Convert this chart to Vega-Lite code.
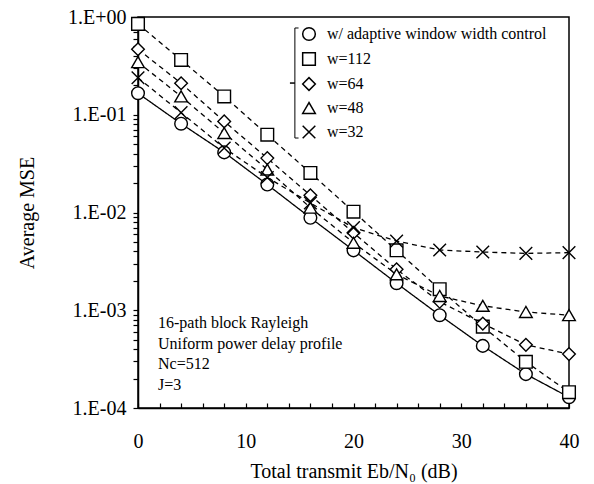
{
  "$schema": "https://vega.github.io/schema/vega-lite/v6.json",
  "width": 431,
  "height": 391,
  "autosize": {"type": "none"},
  "padding": {"left": 138, "top": 17, "right": 25, "bottom": 76},
  "background": "white",
  "config": {
    "font": "Liberation Serif",
    "view": {"stroke": "black", "strokeWidth": 1.5},
    "axis": {
      "domainColor": "black", "domainWidth": 1.5,
      "tickColor": "black", "tickWidth": 1.2,
      "labelColor": "black", "titleColor": "black",
      "labelFontSize": 20, "titleFontSize": 20, "titleFontWeight": "normal",
      "labelFont": "Liberation Serif", "titleFont": "Liberation Serif",
      "grid": false, "labelOverlap": false, "labelFlush": false
    },
    "legend": {
      "labelFont": "Liberation Serif", "labelFontSize": 16, "labelColor": "black", "labelLimit": 400
    }
  },
  "resolve": {"axis": {"x": "independent", "y": "independent"}},
  "datasets": {
    "curves": [
      {"series": "w/ adaptive window width control", "snr": 0, "mse": 0.166},
      {"series": "w/ adaptive window width control", "snr": 4, "mse": 0.081},
      {"series": "w/ adaptive window width control", "snr": 8, "mse": 0.0412},
      {"series": "w/ adaptive window width control", "snr": 12, "mse": 0.0193},
      {"series": "w/ adaptive window width control", "snr": 16, "mse": 0.00883},
      {"series": "w/ adaptive window width control", "snr": 20, "mse": 0.0041},
      {"series": "w/ adaptive window width control", "snr": 24, "mse": 0.00189},
      {"series": "w/ adaptive window width control", "snr": 28, "mse": 0.00089},
      {"series": "w/ adaptive window width control", "snr": 32, "mse": 0.000432},
      {"series": "w/ adaptive window width control", "snr": 36, "mse": 0.000222},
      {"series": "w/ adaptive window width control", "snr": 40, "mse": 0.000129},
      {"series": "w=112", "snr": 0, "mse": 0.85},
      {"series": "w=112", "snr": 4, "mse": 0.364},
      {"series": "w=112", "snr": 8, "mse": 0.154},
      {"series": "w=112", "snr": 12, "mse": 0.0625},
      {"series": "w=112", "snr": 16, "mse": 0.0254},
      {"series": "w=112", "snr": 20, "mse": 0.0102},
      {"series": "w=112", "snr": 24, "mse": 0.0041},
      {"series": "w=112", "snr": 28, "mse": 0.00164},
      {"series": "w=112", "snr": 32, "mse": 0.00068},
      {"series": "w=112", "snr": 36, "mse": 0.000297},
      {"series": "w=112", "snr": 40, "mse": 0.000145},
      {"series": "w=64", "snr": 0, "mse": 0.468},
      {"series": "w=64", "snr": 4, "mse": 0.21},
      {"series": "w=64", "snr": 8, "mse": 0.0855},
      {"series": "w=64", "snr": 12, "mse": 0.036},
      {"series": "w=64", "snr": 16, "mse": 0.015},
      {"series": "w=64", "snr": 20, "mse": 0.0062},
      {"series": "w=64", "snr": 24, "mse": 0.00262},
      {"series": "w=64", "snr": 28, "mse": 0.00122},
      {"series": "w=64", "snr": 32, "mse": 0.00073},
      {"series": "w=64", "snr": 36, "mse": 0.000443},
      {"series": "w=64", "snr": 40, "mse": 0.000356},
      {"series": "w=48", "snr": 0, "mse": 0.345},
      {"series": "w=48", "snr": 4, "mse": 0.154},
      {"series": "w=48", "snr": 8, "mse": 0.065},
      {"series": "w=48", "snr": 12, "mse": 0.0275},
      {"series": "w=48", "snr": 16, "mse": 0.0112},
      {"series": "w=48", "snr": 20, "mse": 0.0049},
      {"series": "w=48", "snr": 24, "mse": 0.00233},
      {"series": "w=48", "snr": 28, "mse": 0.0014},
      {"series": "w=48", "snr": 32, "mse": 0.00111},
      {"series": "w=48", "snr": 36, "mse": 0.00096},
      {"series": "w=48", "snr": 40, "mse": 0.00089},
      {"series": "w=32", "snr": 0, "mse": 0.239},
      {"series": "w=32", "snr": 4, "mse": 0.105},
      {"series": "w=32", "snr": 8, "mse": 0.0457},
      {"series": "w=32", "snr": 12, "mse": 0.0228},
      {"series": "w=32", "snr": 16, "mse": 0.0125},
      {"series": "w=32", "snr": 20, "mse": 0.007},
      {"series": "w=32", "snr": 24, "mse": 0.0051},
      {"series": "w=32", "snr": 28, "mse": 0.00413},
      {"series": "w=32", "snr": 32, "mse": 0.00394},
      {"series": "w=32", "snr": 36, "mse": 0.00382},
      {"series": "w=32", "snr": 40, "mse": 0.00388}
    ],
    "notes": [
      {"note": "16-path block Rayleigh\nUniform power delay profile\nNc=512\nJ=3"}
    ]
  },
  "layer": [
    {
      "data": {"name": "curves"},
      "mark": {"type": "line", "color": "black", "strokeWidth": 1.3},
      "encoding": {
        "x": {
          "field": "snr", "type": "quantitative",
          "scale": {"domain": [0, 40], "nice": false, "zero": false},
          "axis": {
            "values": [0, 2, 4, 6, 8, 10, 12, 14, 16, 18, 20, 22, 24, 26, 28, 30, 32, 34, 36, 38, 40],
            "labelExpr": "datum.value % 10 == 0 ? datum.label : ''",
            "labelOverlap": false, "orient": "bottom",
            "tickSize": -5, "labelPadding": 28, "titlePadding": 10,
            "title": "Total transmit Eb/N₀ (dB)", "titleColor": "black"
          }
        },
        "y": {
          "field": "mse", "type": "quantitative",
          "scale": {"type": "log", "domain": [0.0001, 1], "nice": false},
          "axis": {
            "values": [0.0001, 0.0002, 0.0003, 0.0004, 0.0005, 0.0006, 0.0007, 0.0008, 0.0009,
                       0.001, 0.002, 0.003, 0.004, 0.005, 0.006, 0.007, 0.008, 0.009,
                       0.01, 0.02, 0.03, 0.04, 0.05, 0.06, 0.07, 0.08, 0.09,
                       0.1, 0.2, 0.3, 0.4, 0.5, 0.6, 0.7, 0.8, 0.9, 1],
            "labelExpr": "datum.value == 1 ? '1.E+00' : datum.value == 0.1 ? '1.E-01' : datum.value == 0.01 ? '1.E-02' : datum.value == 0.001 ? '1.E-03' : datum.value == 0.0001 ? '1.E-04' : ''",
            "labelOverlap": false, "orient": "left",
            "tickSize": 5, "labelPadding": 7, "titlePadding": 30,
            "title": "Average MSE", "titleColor": "black"
          }
        },
        "detail": {"field": "series"},
        "strokeDash": {
          "condition": {"test": "datum.series == 'w/ adaptive window width control'", "value": [1, 0]},
          "value": [5, 4]
        }
      }
    },
    {
      "data": {"name": "curves"},
      "mark": {"type": "point", "filled": true, "fill": "white", "stroke": "black", "strokeWidth": 1.4, "size": 160, "opacity": 1},
      "encoding": {
        "x": {"field": "snr", "type": "quantitative", "axis": null},
        "y": {"field": "mse", "type": "quantitative", "axis": null},
        "shape": {
          "field": "series", "type": "nominal",
          "scale": {
            "domain": ["w/ adaptive window width control", "w=112", "w=64", "w=48", "w=32"],
            "range": ["circle", "square", "diamond", "triangle-up", "M-1,-1L1,1M1,-1L-1,1"]
          },
          "legend": {
            "title": null, "orient": "none", "legendX": 163, "legendY": 9,
            "symbolSize": 160, "rowPadding": 5, "labelOffset": 10, "padding": 0, "labelLimit": 400,
            "encode": {
              "symbols": {
                "update": {
                  "fill": {"value": "white"},
                  "stroke": {"value": "black"},
                  "strokeWidth": {"value": 1.4},
                  "opacity": {"value": 1}
                }
              }
            }
          }
        }
      }
    },
    {
      "data": {"name": "notes"},
      "mark": {
        "type": "text", "align": "left", "baseline": "top", "fontSize": 16, "lineHeight": 20.5,
        "font": "Liberation Serif", "color": "black", "lineBreak": "\n"
      },
      "encoding": {
        "text": {"field": "note"},
        "x": {"datum": 1.86, "type": "quantitative", "axis": null},
        "y": {"datum": 0.00089, "type": "quantitative", "axis": null}
      }
    },
    {
      "data": {"name": "notes"},
      "mark": {"type": "rule", "color": "black", "strokeWidth": 1},
      "encoding": {
        "x": {"datum": 14.56, "type": "quantitative", "axis": null},
        "y": {"datum": 0.772, "type": "quantitative", "axis": null},
        "y2": {"datum": 0.0578}
      }
    },
    {
      "data": {"name": "notes"},
      "mark": {"type": "rule", "color": "black", "strokeWidth": 1},
      "encoding": {
        "x": {"datum": 14.56, "type": "quantitative", "axis": null},
        "x2": {"datum": 14.9},
        "y": {"datum": 0.772, "type": "quantitative", "axis": null}
      }
    },
    {
      "data": {"name": "notes"},
      "mark": {"type": "rule", "color": "black", "strokeWidth": 1},
      "encoding": {
        "x": {"datum": 14.56, "type": "quantitative", "axis": null},
        "x2": {"datum": 14.9},
        "y": {"datum": 0.0578, "type": "quantitative", "axis": null}
      }
    },
    {
      "data": {"name": "notes"},
      "mark": {"type": "rule", "color": "black", "strokeWidth": 1.5},
      "encoding": {
        "x": {"datum": 14.1, "type": "quantitative", "axis": null},
        "x2": {"datum": 14.56},
        "y": {"datum": 0.211, "type": "quantitative", "axis": null}
      }
    }
  ]
}
